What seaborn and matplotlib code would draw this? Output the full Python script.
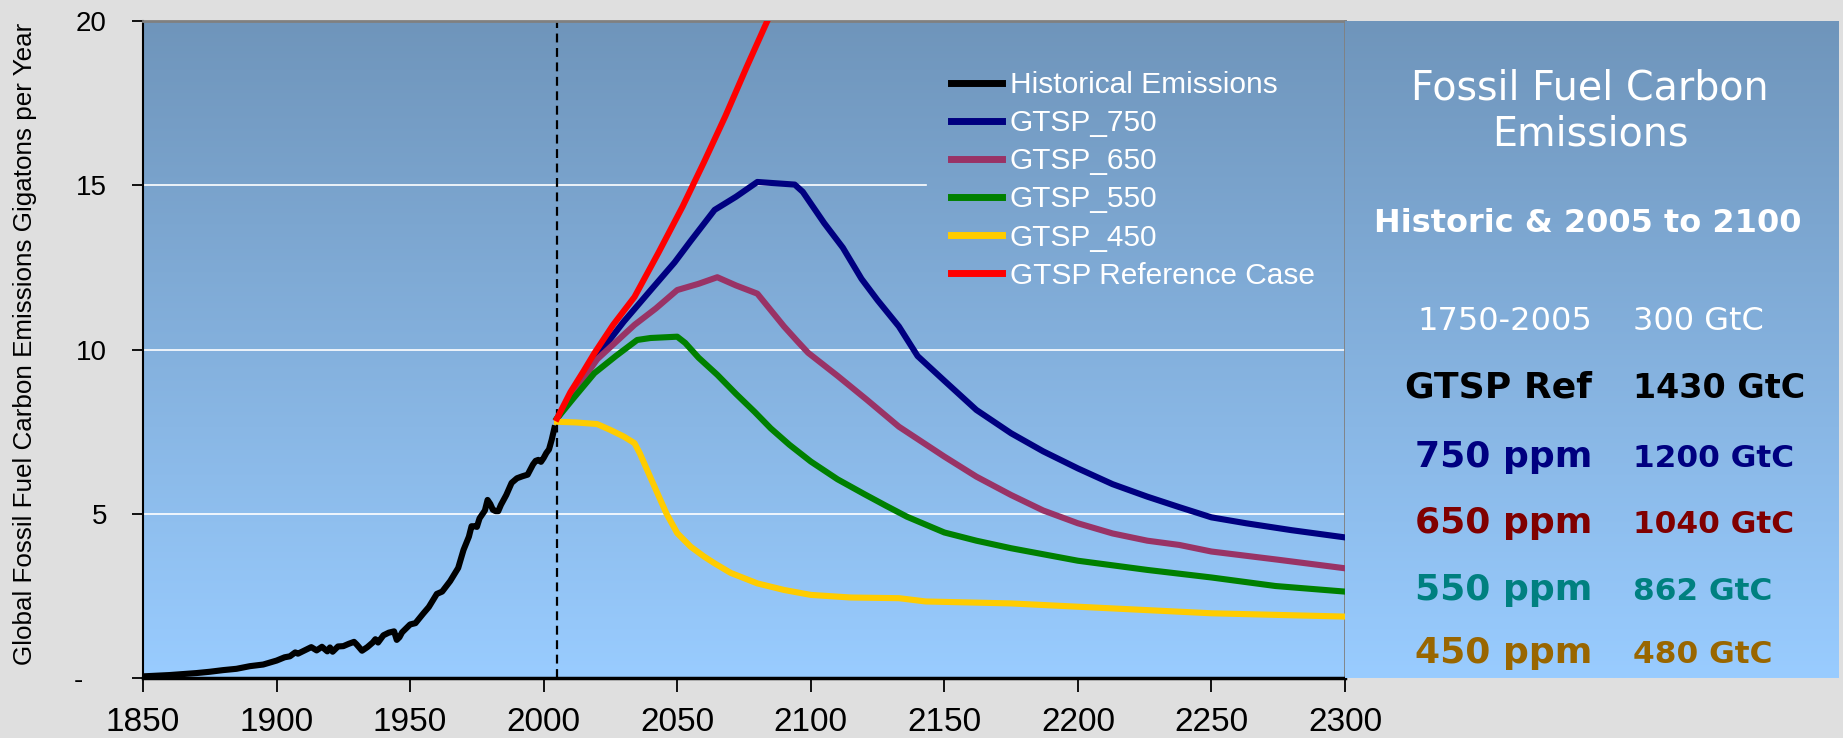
import matplotlib
matplotlib.use("Agg")

import matplotlib.pyplot as plt
from matplotlib.colors import LinearSegmentedColormap
import seaborn as sns
import pandas as pd
import numpy as np

# --- data (GtC per year) ---
hist_years = [1850, 1855, 1860, 1865, 1870, 1875, 1880, 1885, 1890, 1895, 1900, 1903,
              1905, 1907, 1908, 1910, 1913, 1915, 1917, 1919, 1920, 1921, 1923, 1925,
              1927, 1929, 1930, 1932, 1934, 1936, 1937, 1938, 1940, 1942, 1944, 1945,
              1946, 1947, 1950, 1952, 1955, 1957, 1960, 1962, 1965, 1968, 1970, 1972,
              1973, 1974, 1975, 1976, 1978, 1979, 1980, 1981, 1982, 1983, 1984, 1986,
              1988, 1990, 1992, 1994, 1996, 1997, 1998, 1999, 2000, 2001, 2002, 2003, 2004]
hist_vals = [0.05, 0.07, 0.09, 0.12, 0.15, 0.19, 0.24, 0.28, 0.36, 0.41, 0.53, 0.63,
             0.66, 0.78, 0.74, 0.82, 0.94, 0.84, 0.95, 0.81, 0.93, 0.80, 0.96, 0.97,
             1.04, 1.10, 1.02, 0.83, 0.94, 1.08, 1.18, 1.08, 1.30, 1.38, 1.42, 1.16,
             1.24, 1.39, 1.63, 1.67, 1.97, 2.16, 2.56, 2.63, 2.95, 3.35, 3.90, 4.30,
             4.62, 4.62, 4.60, 4.86, 5.10, 5.42, 5.30, 5.12, 5.08, 5.08, 5.27, 5.57,
             5.94, 6.08, 6.14, 6.19, 6.50, 6.61, 6.64, 6.58, 6.70, 6.85, 6.96, 7.25, 7.60]

y750 = [2005, 2010, 2015, 2020, 2030, 2040, 2049, 2055, 2064, 2072, 2080, 2094, 2097,
        2105, 2112, 2119, 2125, 2133, 2140, 2150, 2162, 2175, 2187, 2200, 2213, 2226,
        2238, 2250, 2263, 2280, 2300]
v750 = [7.9, 8.5, 9.15, 9.8, 10.85, 11.8, 12.65, 13.3, 14.25, 14.65, 15.1, 15.02, 14.8,
        13.85, 13.1, 12.15, 11.5, 10.7, 9.8, 9.05, 8.16, 7.45, 6.9, 6.38, 5.9, 5.52,
        5.2, 4.89, 4.71, 4.5, 4.28]

y650 = [2005, 2010, 2020, 2034, 2042, 2050, 2058, 2065, 2072, 2080, 2085, 2090, 2095,
        2099, 2110, 2121, 2133, 2150, 2162, 2175, 2187, 2200, 2213, 2226, 2238, 2250,
        2275, 2300]
v650 = [7.9, 8.55, 9.7, 10.75, 11.25, 11.81, 12.0, 12.2, 11.95, 11.7, 11.2, 10.7, 10.25,
        9.9, 9.2, 8.47, 7.65, 6.74, 6.13, 5.57, 5.1, 4.71, 4.4, 4.18, 4.05, 3.85,
        3.6, 3.34]

y550 = [2005, 2011, 2019, 2027, 2035, 2040, 2050, 2053, 2058, 2065, 2072, 2079, 2085,
        2092, 2100, 2110, 2120, 2128, 2136, 2150, 2162, 2175, 2200, 2226, 2250, 2274, 2300]
v550 = [7.9, 8.5, 9.28, 9.8, 10.29, 10.35, 10.39, 10.2, 9.75, 9.23, 8.65, 8.1, 7.6,
        7.1, 6.59, 6.05, 5.6, 5.25, 4.91, 4.43, 4.18, 3.95, 3.57, 3.29, 3.06, 2.80, 2.63]

y450 = [2005, 2012, 2020, 2025, 2030, 2034, 2036, 2040, 2043, 2046, 2050, 2055, 2060,
        2064, 2070, 2080, 2090, 2100, 2115, 2133, 2143, 2175, 2200, 2250, 2300]
v450 = [7.8, 7.78, 7.73, 7.55, 7.35, 7.15, 6.84, 6.1, 5.55, 5.0, 4.41, 4.0, 3.7,
        3.49, 3.2, 2.88, 2.68, 2.53, 2.45, 2.43, 2.33, 2.27, 2.17, 1.97, 1.87]

yref = [2005, 2010, 2015, 2019, 2026, 2034, 2043, 2052, 2060, 2068, 2076, 2084, 2090]
vref = [7.9, 8.7, 9.35, 9.89, 10.75, 11.6, 12.95, 14.35, 15.7, 17.1, 18.6, 20.05, 21.1]

series_names = ["Historical Emissions", "GTSP_750", "GTSP_650", "GTSP_550",
                "GTSP_450", "GTSP Reference Case"]
series_colors = ["#000000", "#000080", "#993366", "#008000", "#ffcc00", "#ff0000"]

x_ticks = [1850, 1900, 1950, 2000, 2050, 2100, 2150, 2200, 2250, 2300]
y_ticks = [0, 5, 10, 15, 20]
y_ticklabels = ["-   ", "5", "10", "15", "20"]

panel_rows = [
    ("1750-2005", "300 GtC", "white", "normal", 23, "normal", 23),
    ("GTSP Ref", "1430 GtC", "black", "bold", 26, "bold", 24),
    ("750 ppm", "1200 GtC", "#000080", "bold", 26, "bold", 22.5),
    ("650 ppm", "1040 GtC", "#800000", "bold", 26, "bold", 22.5),
    ("550 ppm", "862 GtC", "#008080", "bold", 26, "bold", 22.5),
    ("450 ppm", "480 GtC", "#996600", "bold", 26, "bold", 22.5),
]

# long-form table for seaborn
frames = []
for name, xs, vs in zip(series_names,
                        [hist_years, y750, y650, y550, y450, yref],
                        [hist_vals, v750, v650, v550, v450, vref]):
    frames.append(pd.DataFrame({"year": xs, "value": vs, "series": name}))
df = pd.concat(frames, ignore_index=True)

W, H = 1843, 738
fig = plt.figure(figsize=(W / 100, H / 100), dpi=100, facecolor="#dfdfdf")
ax = fig.add_axes([143 / W, 60 / H, 1202 / W, 657 / H])

grad_cmap = LinearSegmentedColormap.from_list("bg", ["#99ccff", "#6f95bb"])
grad = np.linspace(0, 1, 256).reshape(-1, 1)
ax.imshow(grad, cmap=grad_cmap, origin="lower", aspect="auto",
          extent=[1850, 2300, 0, 20], zorder=0)

# gridlines (the one at 15 is hidden behind the legend box)
ax.axhline(5, color="white", lw=1.2, zorder=1)
ax.axhline(10, color="white", lw=1.2, zorder=1)
ax.axhline(15, xmax=0.651, color="white", lw=1.2, zorder=1)

ax.axvline(2005, color="black", lw=1.6, ls=(0, (4, 2.5)), zorder=2)

sns.lineplot(data=df, x="year", y="value", hue="series", hue_order=series_names,
             palette=series_colors, linewidth=4.4, estimator=None, sort=False,
             ax=ax, zorder=3)

ax.set_xlim(1850, 2300)
ax.set_ylim(0, 20)
ax.set_xlabel("")
ax.set_ylabel("")
ax.set_xticks(x_ticks)
ax.set_xticklabels([str(t) for t in x_ticks], family="Liberation Sans", fontsize=24)
ax.set_yticks(y_ticks)
ax.set_yticklabels(y_ticklabels, family="Liberation Sans", fontsize=20)
ax.tick_params(axis="x", direction="out", length=10, width=1.3, pad=11, colors="black")
ax.tick_params(axis="y", direction="out", length=8, width=1.3, pad=18, colors="black")

ax.spines["left"].set_color("black")
ax.spines["left"].set_linewidth(1.5)
ax.spines["bottom"].set_color("black")
ax.spines["bottom"].set_linewidth(2.5)
ax.spines["top"].set_color("#808080")
ax.spines["top"].set_linewidth(2)
ax.spines["right"].set_color("#808080")
ax.spines["right"].set_linewidth(2)

fig.text(25 / W, 1 - 344 / H, "Global Fossil Fuel Carbon Emissions Gigatons per Year",
         rotation=90, ha="center", va="center", family="Liberation Sans", fontsize=18.7)

handles, labels = ax.get_legend_handles_labels()
leg = ax.legend(handles, labels, loc="upper left",
                bbox_to_anchor=(951 / W, 1 - 71 / H), bbox_transform=fig.transFigure,
                frameon=False, prop={"family": "Liberation Sans", "size": 21.5},
                handlelength=1.7, handletextpad=0.27, labelspacing=0.34,
                borderpad=0, borderaxespad=0, labelcolor="white")
for line in leg.get_lines():
    line.set_linewidth(5)

# right-hand summary panel
pan = fig.add_axes([1345 / W, 60 / H, 494 / W, 657 / H])
pan.imshow(grad, cmap=grad_cmap, origin="lower", aspect="auto",
           extent=[0, 1, 0, 1], zorder=0)
pan.set_xlim(0, 1)
pan.set_ylim(0, 1)
pan.axis("off")


def py(y_full):
    return (678 - y_full) / 657


pf = "DejaVu Sans"
pan.text(0.496, py(100), "Fossil Fuel Carbon", color="white", family=pf,
         fontsize=28.5, ha="center", va="baseline")
pan.text(0.496, py(145), "Emissions", color="white", family=pf,
         fontsize=28.5, ha="center", va="baseline")
pan.text(0.492, py(232), "Historic & 2005 to 2100", color="white", family=pf,
         fontsize=23, fontweight="bold", ha="center", va="baseline")

row_base = [330, 398, 467, 533, 600, 663]
for (left, right, col, lw_, ls_, rw_, rs_), yb in zip(panel_rows, row_base):
    pan.text(0.50, py(yb), left, color=col, family=pf, fontsize=ls_,
             fontweight=lw_, ha="right", va="baseline")
    pan.text(0.583, py(yb), right, color=col, family=pf, fontsize=rs_,
             fontweight=rw_, ha="left", va="baseline")

fig.savefig("out.png", dpi=100, facecolor=fig.get_facecolor())
plt.close(fig)
